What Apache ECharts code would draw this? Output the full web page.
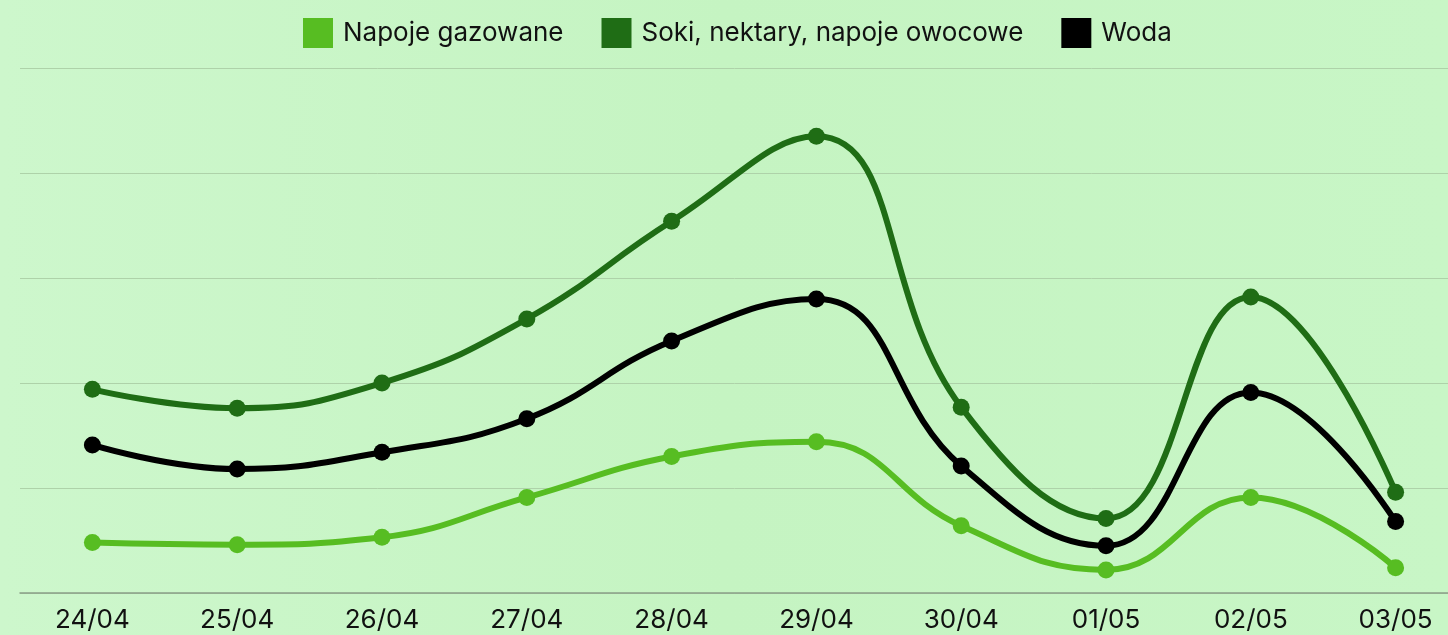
<!DOCTYPE html>
<html>
<head>
<meta charset="utf-8">
<style>
  html, body { margin: 0; padding: 0; }
  #chart { width: 1448px; height: 635px; }
</style>
<script src="https://cdn.jsdelivr.net/npm/echarts@6/dist/echarts.min.js"></script>
</head>
<body>
<div id="chart"></div>
<script>
const days = ['24/04', '25/04', '26/04', '27/04', '28/04', '29/04', '30/04', '01/05', '02/05', '03/05']
const seriesNames = ['Napoje gazowane', 'Soki, nektary, napoje owocowe', 'Woda']
const gazowane = [0.48, 0.46, 0.53, 0.91, 1.30, 1.44, 0.64, 0.22, 0.91, 0.24]
const soki = [1.94, 1.76, 2.00, 2.61, 3.54, 4.35, 1.77, 0.71, 2.82, 0.96]
const woda = [1.41, 1.18, 1.34, 1.66, 2.40, 2.80, 1.21, 0.45, 1.91, 0.68]
const colors = ['#57bd22', '#1f6d15', '#000000']

const chart = echarts.init(document.getElementById('chart'))

function lineSeries(name, data, color) {
  return {
    name: name,
    type: 'line',
    smooth: 0.45,
    data: data,
    symbol: 'circle',
    symbolSize: 17,
    itemStyle: { color: color },
    lineStyle: { color: color, width: 6 },
    animation: false
  }
}

chart.setOption({
  backgroundColor: new echarts.graphic.LinearGradient(0, 0, 1, 0, [
    { offset: 0, color: '#cdf7cc' },
    { offset: 0.5, color: '#c5f4c2' },
    { offset: 1, color: '#c8f6c6' }
  ]),
  color: colors,
  legend: {
    top: 18,
    left: 303,
    padding: 0,
    itemWidth: 30,
    itemHeight: 30,
    itemGap: 38,
    icon: 'rect',
    textStyle: { fontFamily: 'Inter', fontSize: 26, color: '#111', padding: [0, 0, 0, 5] },
    data: seriesNames
  },
  // the plot runs past the right edge of the window, as in the reference
  grid: { left: 20, right: -20, top: 68, bottom: 42, outerBoundsMode: 'none' },
  xAxis: {
    type: 'category',
    data: days,
    boundaryGap: true,
    axisLine: { lineStyle: { color: '#8a9e88', width: 1.5 } },
    axisTick: { show: false },
    axisLabel: { fontFamily: 'Inter', fontSize: 26, color: '#111', margin: 14 }
  },
  yAxis: {
    type: 'value',
    min: 0,
    max: 5,
    interval: 1,
    axisLabel: { show: false },
    axisLine: { show: false },
    axisTick: { show: false },
    splitLine: { lineStyle: { color: '#aed2a9', width: 1 } }
  },
  series: [
    lineSeries(seriesNames[0], gazowane, colors[0]),
    lineSeries(seriesNames[1], soki, colors[1]),
    lineSeries(seriesNames[2], woda, colors[2])
  ]
})
</script>
</body>
</html>
